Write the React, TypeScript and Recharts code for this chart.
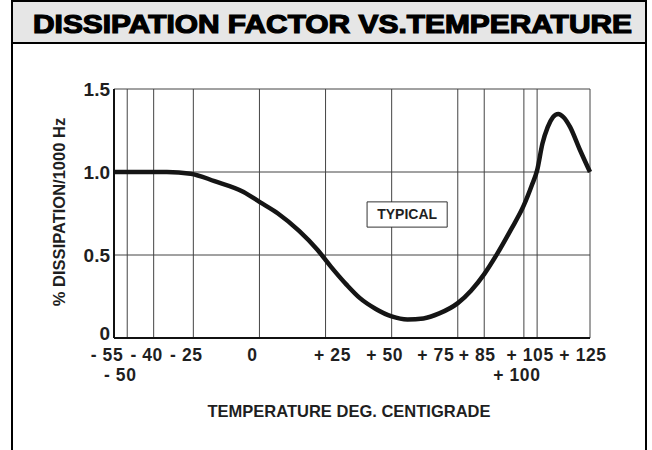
import {
  CartesianGrid,
  Line,
  LineChart,
  ReferenceArea,
  XAxis,
  YAxis
} from 'recharts'

const FONT = '"Liberation Sans", Arial, Helvetica, sans-serif'
const INK = '#1f1f1f'
const GRID = '#444'

// temperature (deg C) and % dissipation
const TEMPS = [
  -55, -45, -35, -26, -17, -6, 0, 7, 15, 22, 27, 33, 38, 44, 50, 56, 62, 68,
  75, 80, 85, 90, 95, 100, 103, 105, 107, 109, 111, 113, 115, 117.5, 121, 125
]
const DISSIPATION = [
  1.0, 1.0, 1.0, 0.99, 0.945, 0.88, 0.82, 0.75, 0.645, 0.53, 0.43, 0.32,
  0.24, 0.175, 0.13, 0.112, 0.118, 0.148, 0.21, 0.285, 0.385, 0.51, 0.65,
  0.8, 0.92, 1.01, 1.17, 1.27, 1.33, 1.35, 1.33, 1.27, 1.14, 1.0
]

const X_TICKS = [-55, -50, -40, -25, 0, 25, 50, 75, 85, 100, 105, 125]
const X_LABELS = [
  '- 55', '- 50', '- 40', '- 25', '0', '+ 25', '+ 50', '+ 75', '+ 85',
  '+ 100', '+ 105', '+ 125'
]
// ticks whose label sits on the second row
const LOWER_ROW = [-50, 100]
// label nudges so the row reads like the printed one
const LABEL_NUDGE: Record<number, number> = { 25: 14, 75: -15 }

const Y_TICKS = [0, 0.5, 1.0, 1.5]
const Y_LABELS = ['0', '0.5', '1.0', '1.5']

const TYPICAL_BOX = { x1: 40.7, x2: 71, y1: 0.668, y2: 0.82 }

const data = TEMPS.map((t, i) => ({ t, d: DISSIPATION[i] }))

function XTick (props: any) {
  const { x, y, payload } = props
  const v = payload.value
  const label = X_LABELS[X_TICKS.indexOf(v)]
  const low = LOWER_ROW.includes(v)
  return (
    <text
      x={x - 7 + (LABEL_NUDGE[v] || 0)}
      y={y + (low ? 43 : 23)}
      textAnchor='middle'
      fontFamily={FONT}
      fontWeight='bold'
      fontSize={17.5}
      letterSpacing={0.6}
      fill={INK}
    >
      {label}
    </text>
  )
}

function YTick (props: any) {
  const { x, y, payload } = props
  const v = payload.value
  const label = Y_LABELS[Y_TICKS.indexOf(v)]
  return (
    <text
      x={x - 4}
      y={y + (v === 0 ? 2 : 7)}
      textAnchor='end'
      fontFamily={FONT}
      fontWeight='bold'
      fontSize={19}
      fill={INK}
    >
      {label}
    </text>
  )
}

export default function App () {
  return (
    <div
      style={{
        position: 'absolute',
        left: 0,
        top: 0,
        width: 652,
        height: 450,
        overflow: 'hidden',
        background: '#fff'
      }}
    >
      <div
        style={{
          position: 'absolute',
          left: 11,
          top: 0,
          width: 636,
          height: 450,
          boxSizing: 'border-box',
          border: '2px solid #000',
          borderBottom: 'none'
        }}
      >
        <div
          style={{
            height: 40,
            background: '#e6e6e6',
            borderBottom: '2px solid #000'
          }}
        />
      </div>
      <svg
        width={652}
        height={450}
        style={{ position: 'absolute', left: 0, top: 0 }}
      >
        <text
          x={33}
          y={33}
          textLength={599}
          lengthAdjust='spacingAndGlyphs'
          fontFamily={FONT}
          fontWeight='bold'
          fontSize={25}
          fill='#000'
          stroke='#000'
          strokeWidth={1.2}
        >
          DISSIPATION FACTOR VS.TEMPERATURE
        </text>
        <text
          x={65}
          y={212}
          transform='rotate(-90 65 212)'
          textAnchor='middle'
          fontFamily={FONT}
          fontWeight='bold'
          fontSize={16.5}
          fill={INK}
        >
          % DISSIPATION/1000 Hz
        </text>
        <text
          x={349}
          y={417}
          textAnchor='middle'
          fontFamily={FONT}
          fontWeight='bold'
          fontSize={16.5}
          fill={INK}
        >
          TEMPERATURE DEG. CENTIGRADE
        </text>
      </svg>
      <div style={{ position: 'absolute', left: 0, top: 0 }}>
        <LineChart
          width={652}
          height={450}
          data={data}
          margin={{ top: 89, right: 62, bottom: 62, left: 54 }}
        >
          <CartesianGrid stroke={GRID} strokeWidth={1} />
          <XAxis
            dataKey='t'
            type='number'
            domain={[-55, 125]}
            ticks={X_TICKS}
            interval={0}
            height={50}
            tickSize={0}
            tickMargin={0}
            tickLine={false}
            axisLine={{ stroke: '#111', strokeWidth: 2 }}
            tick={<XTick />}
          />
          <YAxis
            type='number'
            domain={[0, 1.5]}
            ticks={Y_TICKS}
            interval={0}
            width={60}
            tickSize={0}
            tickMargin={0}
            tickLine={false}
            axisLine={{ stroke: '#111', strokeWidth: 2 }}
            tick={<YTick />}
          />
          <ReferenceArea
            x1={TYPICAL_BOX.x1}
            x2={TYPICAL_BOX.x2}
            y1={TYPICAL_BOX.y1}
            y2={TYPICAL_BOX.y2}
            fill='#fff'
            fillOpacity={1}
            stroke='#333'
            strokeWidth={1}
            label={{
              value: 'TYPICAL',
              position: 'center',
              fill: INK,
              fontSize: 14,
              fontWeight: 'bold',
              fontFamily: FONT
            }}
          />
          <Line
            dataKey='d'
            type='monotone'
            stroke='#151515'
            strokeWidth={4.5}
            dot={false}
            activeDot={false}
            isAnimationActive={false}
          />
        </LineChart>
      </div>
    </div>
  )
}
